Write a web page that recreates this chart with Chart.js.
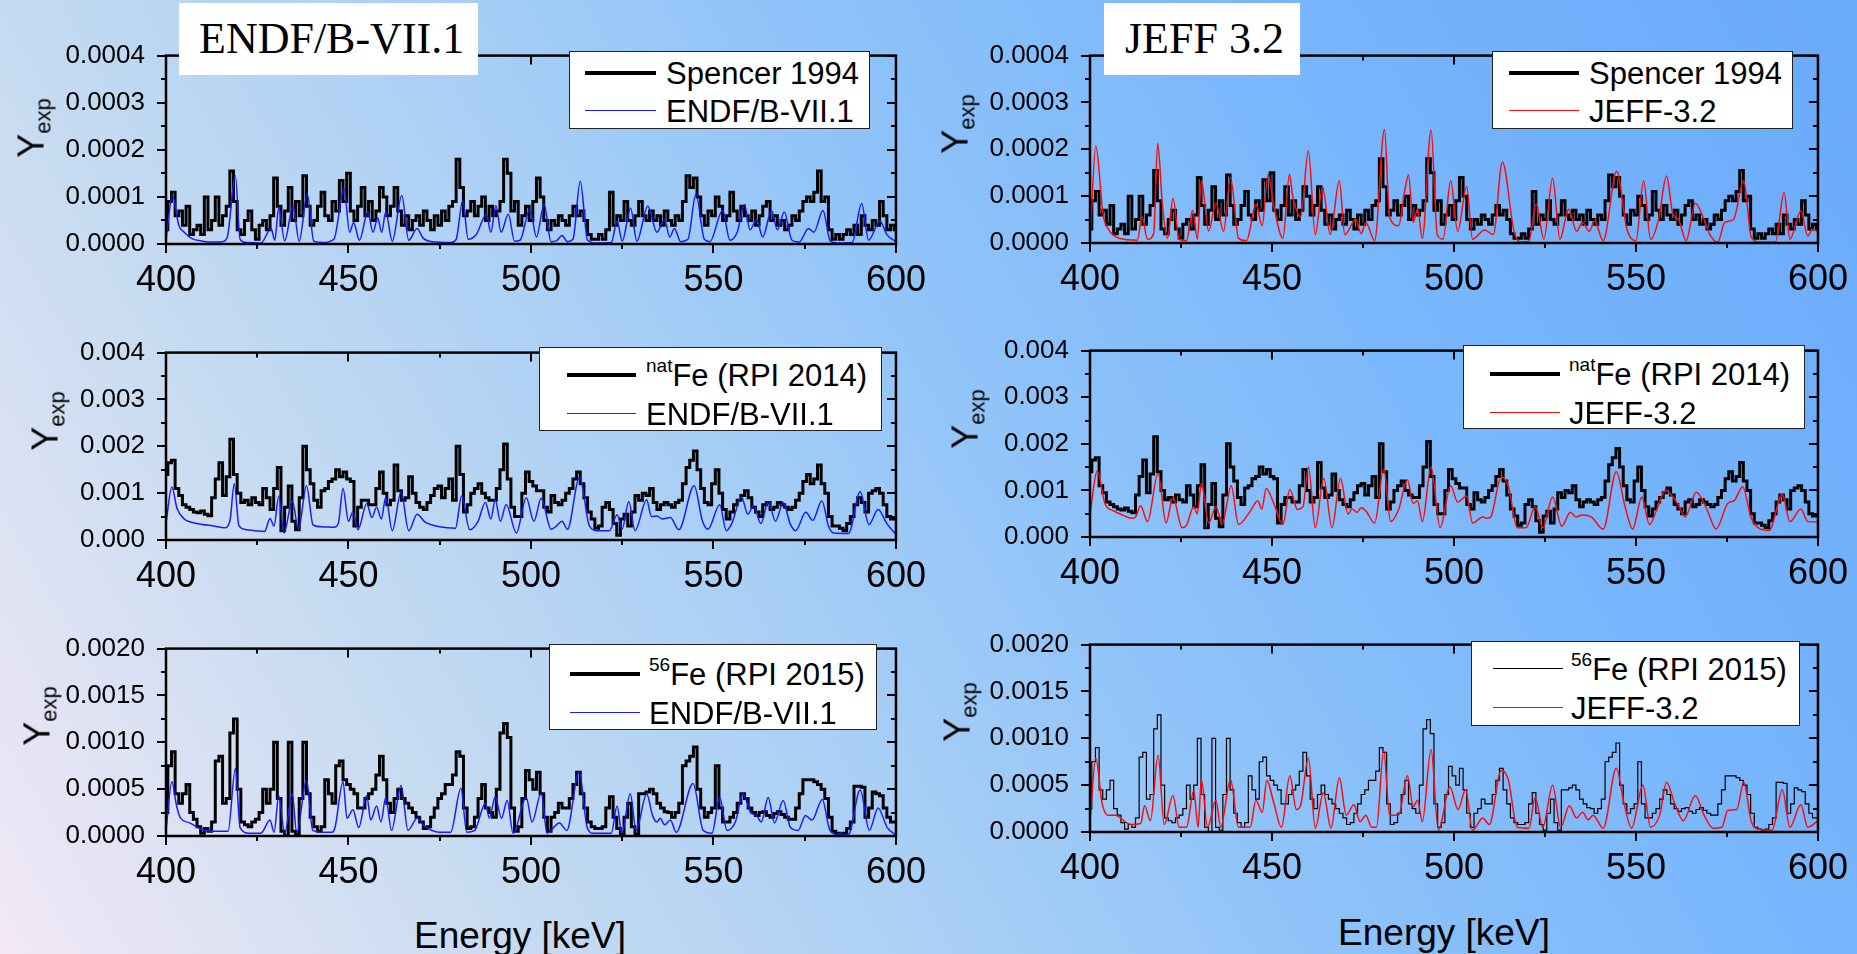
<!DOCTYPE html>
<html>
<head>
<meta charset="utf-8">
<script src="https://cdn.jsdelivr.net/npm/chart.js@4.4.1/dist/chart.umd.min.js"></script>
<style>
  html, body { margin: 0; padding: 0; width: 1857px; height: 954px; overflow: hidden; }
  body {
    position: relative;
    font-family: "Liberation Sans", Arial, sans-serif;
    background: linear-gradient(60deg, #f2e8f6 0%, #c6dbf1 22%, #a9cff5 40%, #8fc3f9 55%, #78b6fc 75%, #69aafa 100%);
  }
  canvas { position: absolute; }
  .legend { position: absolute; background: #fff; border: 1.5px solid #222; box-sizing: border-box; }
  .legend .ln { position: absolute; height: 0; }
  .legend .tx { position: absolute; font-size: 31px; line-height: 1; white-space: nowrap; transform: translateY(-50%); color: #000; }
  .legend sup { font-size: 19px; vertical-align: top; line-height: 1; position: relative; top: -4px; }
  .title { position: absolute; background: #fff; font-family: "Liberation Serif", "Times New Roman", serif; font-size: 44px; line-height: 1; box-sizing: border-box; }
  .title span { position: absolute; white-space: nowrap; }
  .ylab { position: absolute; font-size: 36px; line-height: 1; white-space: nowrap; transform: translate(-50%, -50%) rotate(-90deg); }
  .ylab sub { font-size: 22px; vertical-align: -7px; }
  .xlab { position: absolute; font-size: 37px; line-height: 1; white-space: nowrap; transform: translate(-50%, -50%); }
</style>
</head>
<body>
<script>
// Fe yield 400-600 keV: measured data against ENDF/B-VII.1 and JEFF-3.2

// 1 keV bins for the measured yields
const binE = Array.from({ length: 201 }, (_, i) => 400 + i);

// Spencer 1994, units of 1e-5
const spencer1994 = [
  3, 9, 11, 6, 7, 4, 8, 2, 3, 4,            // 400
  2, 10, 3, 5, 10, 4, 6, 8, 15.5, 9,        // 410
  3, 2, 5, 7, 3, 1, 4, 5, 3, 6,             // 420
  14, 8, 4, 7, 12, 5, 9, 6, 14.5, 8,        // 430
  4, 5, 8, 11, 6, 5, 9, 7, 13.5, 9,         // 440
  15, 7, 5, 8, 12, 6, 9, 5, 7, 12,          // 450
  10, 6, 8, 12, 7, 4, 6, 3, 5, 6,           // 460
  4, 7, 5, 3, 6, 4, 7, 5, 8, 9,             // 470
  18, 12, 6, 7, 9, 6, 8, 10, 5, 8,          // 480
  6, 7, 9, 18, 15, 7, 9, 4, 6, 8,           // 490
  5, 9, 14, 10, 5, 3, 5, 4, 6, 5,           // 500
  4, 6, 8, 6, 7, 5, 2, 1, 1, 2,             // 510
  1, 3, 11, 4, 6, 5, 9, 5, 4, 6,            // 520
  9, 6, 5, 7, 5, 6, 4, 7, 5, 4,             // 530
  6, 5, 9, 14.5, 12, 14, 10, 6, 4, 7,       // 540
  6, 10, 8, 5, 6, 11, 7, 5, 8, 6,           // 550
  5, 7, 4, 6, 8, 9, 5, 6, 4, 5,             // 560
  3, 4, 6, 5, 7, 9, 10, 9, 11, 15.5,        // 570
  9, 10, 3, 1, 2, 1, 2, 3, 2, 4,            // 580
  2, 6, 4, 3, 5, 4, 9, 6, 3, 4,             // 590
  3                                         // 600
];

// natFe RPI 2014, units of 1e-4
const natFe2014 = [
  14, 16.5, 17, 11, 9.5, 7.5, 7, 6.5, 6, 5.8,          // 400
  6.2, 5.5, 5.2, 9, 13, 16.5, 9.5, 13.5, 21.5, 14,     // 410
  10, 8, 8.5, 7.5, 9, 8, 7.5, 11, 9, 6.5,              // 420
  11, 15.5, 2, 7, 11.5, 4, 2.2, 9, 20, 15,             // 430
  12, 8.5, 7, 10.5, 11, 12.5, 13, 15, 13.5, 14.5,      // 440
  13, 12.5, 3, 7, 8.5, 8.5, 7.5, 7.5, 11, 14.5,        // 450
  10, 7.5, 8.5, 16, 10.5, 8.5, 9, 13.5, 10, 8,         // 460
  7, 6.5, 8, 9.5, 11, 11.5, 9, 11, 13, 8.5,            // 470
  20, 14, 6, 7.5, 10, 11, 12, 10, 9, 8.5,              // 480
  8.5, 11, 15, 20.5, 13, 7, 5, 5, 10, 14.5,            // 490
  12.5, 11.5, 10.5, 10.5, 7, 6, 9.5, 8, 7.5, 8.5,      // 500
  10, 11, 13, 14.5, 12, 9, 6, 4.5, 2.5, 3,             // 510
  7, 8, 6.5, 3.5, 1, 4.5, 5.5, 3, 6, 9.5,              // 520
  8.5, 10, 9.5, 11, 8, 6.5, 7.5, 8, 7.5, 7,            // 530
  8, 8.5, 12, 15.5, 17, 19, 15, 11, 8, 7.5,            // 540
  12, 15, 10, 6.5, 4.5, 6, 7.5, 8.5, 9.5, 10.5,        // 550
  9, 7, 6, 5, 7.5, 8, 6.5, 7, 8, 7.5,                  // 560
  7, 6.5, 7, 8.5, 10, 12.5, 14, 12, 13, 16,            // 570
  12, 10, 5, 3, 3, 2.5, 2, 3.5, 5, 7.5,                // 580
  9, 8, 6, 10, 10.5, 11, 10, 7.5, 5, 4.5,              // 590
  4.5                                                  // 600
];

// 56Fe RPI 2015, units of 1e-4
const fe56_2015 = [
  2.5, 7.5, 9, 4.5, 3.5, 4.5, 5.5, 2.5, 1.8, 1,        // 400
  0.3, 0.8, 0.5, 1.5, 8, 8.5, 3.5, 4, 11, 12.5,        // 410
  5, 1.5, 1.2, 1, 1.5, 1.8, 2.5, 5, 3.5, 5,            // 420
  10, 4, 0.5, 0, 10, 0.5, 0.2, 4, 10, 4.5,             // 430
  2, 1, 0.5, 1, 6, 4.5, 3.5, 7.5, 8, 6,                // 440
  5.5, 5, 4.5, 3, 3, 4, 4.5, 5, 6.5, 8.5,              // 450
  6, 3.5, 2.5, 4, 5, 4, 3.5, 3, 2.5, 2,                // 460
  1.5, 0.8, 1, 2, 3, 4, 4.5, 5.5, 5.5, 6.5,            // 470
  9, 8.5, 3, 0.8, 1, 2, 4, 5.5, 3, 2.5,                // 480
  2, 5, 11, 12, 10.5, 3, 0.5, 1, 4, 7,                 // 490
  6, 5, 6.8, 4.5, 2, 0.5, 2, 2.5, 3.5, 3,              // 500
  3, 4, 5.5, 6.8, 4.5, 3, 1.5, 1, 0.8, 0.8,            // 510
  1, 3, 4.2, 2, 0.8, 0.2, 2, 3.5, 1, 0.2,              // 520
  4.5, 4.5, 4.7, 5, 4.5, 3.5, 3, 2.6, 2.5, 2,          // 530
  2.5, 3.5, 7.5, 8, 8.5, 9.5, 5, 3, 2, 2.5,            // 540
  3, 7.5, 3, 1.5, 1.5, 2, 2.5, 3.5, 4.5, 4,            // 550
  3, 2.5, 2.2, 2.5, 2.6, 2.2, 2, 2.4, 2.6, 2.3,        // 560
  2, 1.8, 1.8, 3, 4.5, 6, 6, 6, 5.8, 5.5,              // 570
  5, 4, 2, 0.5, 0.3, 0.2, 0.3, 0.8, 1.5, 5.3,          // 580
  5.3, 5.2, 2, 3, 4.7, 4.5, 4.3, 3, 2, 1.5,            // 590
  1.5                                                  // 600
];

// evaluated curves, [energy keV, yield] pairs
// ENDF/B-VII.1 vs Spencer, units of 1e-5
const endfTop = [
  [400, 1], [401.8, 10.3], [403.5, 4], [405, 2.5], [407, 1.2], [410, 0.6], [413, 0.4], [415.5, 0.5],
  [416.8, 1.5], [419, 14.5], [420.3, 1], [422, 0.3], [426, 0.2], [428.8, 3.3], [429.8, 0.8], [430.9, 7.8],
  [432.5, 0.7], [434.8, 8], [436.5, 0.6], [438.7, 10.6], [440.5, 0.6], [443, 0.3], [446, 1], [448.8, 11.7],
  [450.3, 2.5], [451.4, 4.5], [453, 0.8], [455.3, 6.8], [456.7, 2.5], [458, 5.5], [459.1, 2.5], [460.2, 6.8],
  [462, 0.6], [464.6, 10.3], [466.5, 0.8], [468.8, 3.3], [470.5, 1.2], [474, 0.4], [478, 0.3], [479.5, 1],
  [481.3, 9.2], [482.8, 1], [485, 2], [487.8, 6.3], [489, 2.5], [490.4, 8.2], [491.8, 2.5], [493.8, 6.3],
  [495.5, 0.6], [497, 0.8], [499.7, 7.4], [501.5, 1.5], [503.6, 8.4], [505.5, 0.5], [507, 0.7], [508.5, 1.8],
  [510, 0.5], [511.5, 1], [513.5, 13.3], [515.5, 0.8], [518, 0.2], [522, 0.3], [523.6, 4.9], [525, 0.6],
  [527.3, 7.6], [529, 0.6], [532, 8], [534.5, 2.5], [536.6, 5.2], [538, 1.5], [539.3, 3.3], [541, 0.5],
  [543, 1], [545.2, 10.6], [547.5, 1], [549, 0.5], [552.5, 7.1], [554.5, 0.8], [556.5, 2.5], [558.5, 8.4],
  [560, 3], [561.8, 5.2], [563.5, 1.5], [565.9, 7.1], [567.5, 3], [569.4, 6.8], [571.5, 0.8], [573.5, 0.4],
  [576, 3.3], [577.5, 2.5], [580, 7.1], [582, 0.6], [584, 0.2], [588, 0.3], [590.6, 8.6], [592.5, 0.8],
  [595.6, 4.9], [597.5, 2], [600, 0.5]
];

// JEFF-3.2 vs Spencer, units of 1e-5
const jeffTop = [
  [400, 0.5], [401.6, 20.7], [403.6, 6], [405, 3], [408, 1], [413, 0.6], [414.3, 5.6], [415.8, 0.8],
  [417.5, 2], [418.6, 21.3], [419.9, 8], [421.3, 1], [422.8, 9.5], [424.5, 0.8], [426.5, 0.5], [428.2, 7],
  [429.5, 0.8], [430.6, 13.3], [432.6, 2.5], [434.6, 8.5], [436.7, 2.5], [438.6, 14], [440.8, 1], [443, 0.5],
  [445.6, 8.2], [447.3, 3.7], [448.9, 14.6], [450.5, 7.9], [453, 1], [454.8, 14.6], [455.7, 10], [457.9, 5.6],
  [460, 19.7], [461.9, 1.8], [463.9, 12], [466, 1.8], [468.5, 13.3], [470, 1.8], [473, 5], [474.5, 2],
  [475.8, 4.4], [478.2, 0.5], [480.9, 24.2], [482.3, 5.6], [484.8, 3.7], [486.4, 10.8], [487.5, 14.5], [488.8, 4.4],
  [490, 7.2], [491.3, 1], [493.7, 24.1], [495.4, 1.8], [497, 0.8], [499.1, 13.3], [501, 2.5], [503.5, 12],
  [505.1, 0.8], [508.4, 2.8], [510.8, 1.8], [513.3, 17.3], [516.5, 2.5], [518.2, 0.2], [520.5, 0.3], [522.6, 8.3],
  [524.7, 0.8], [527.1, 13.8], [529.1, 0.8], [531.5, 7.2], [533.7, 2.5], [535.3, 4.4], [537.2, 2.5], [538.6, 4.7],
  [541, 0.5], [544.7, 15.3], [547.5, 3], [550, 0.5], [552.1, 13.3], [554, 0.8], [556.2, 5], [558.4, 14.3],
  [560.1, 6.3], [561.7, 5], [563.8, 0.5], [566.3, 8.5], [568.4, 5.6], [570.3, 1.8], [572.5, 0.2], [574.4, 4.4],
  [576.8, 5], [579.6, 13.3], [581.7, 1.2], [584.2, 0.2], [588.3, 0.2], [590.7, 10.8], [592.3, 0.8], [595.3, 6.9],
  [597.2, 1.5], [598.5, 3], [600, 2.4]
];

// ENDF/B-VII.1 vs natFe, units of 1e-4
const endfMid = [
  [400, 3.6], [401.6, 11.3], [403, 6.8], [405, 4.5], [407, 3.8], [410, 3.3], [413, 3], [416, 2.6],
  [417.5, 4], [418.7, 12], [420, 3], [422, 2.2], [425, 1.9], [427, 1.8], [428.5, 4.6], [429.6, 3],
  [430.9, 9.4], [432.3, 1.5], [434.6, 8.3], [436.3, 2.3], [438.5, 11.6], [440.3, 3.2], [443, 2.8], [446, 2.7],
  [447.2, 3.5], [448.5, 11], [450, 4], [451.2, 6], [452.6, 2.2], [455, 7.8], [456.4, 4.8], [457.7, 7],
  [459, 4.5], [460.2, 9.1], [462, 2], [464.4, 10.2], [466.5, 2], [468.8, 5.5], [471, 3.8], [474, 3],
  [477, 2.6], [479.3, 2.5], [481, 9.4], [483.2, 2.2], [485.5, 4], [487.5, 8], [489, 4.5], [490.2, 8.6],
  [491.6, 4], [493.2, 7.6], [496, 1.5], [498.7, 9], [500.8, 4], [502.8, 8.9], [505.5, 2.3], [507, 3],
  [508.5, 4], [510, 2.3], [513.3, 13.4], [516, 3], [518, 2], [521.5, 2], [523.6, 5.4], [525, 2.4],
  [526.8, 8.2], [528.5, 2], [531.7, 8.6], [533, 5], [534.5, 5.1], [536, 4.5], [538.2, 4.8], [540.5, 2.2],
  [544.7, 11.6], [547, 4], [548.5, 2.3], [551.7, 7.5], [553.5, 2], [555, 3.5], [557.7, 9.2], [559.4, 5.5],
  [561, 7.3], [563, 3.5], [565, 8.2], [567, 4], [569.1, 8], [571, 3.5], [572.5, 2], [575.3, 5.9],
  [577.2, 4.2], [579.7, 8.4], [581.5, 3], [583, 1.5], [587, 1.4], [590.2, 10.3], [592.6, 3.3], [595.1, 6.5],
  [597.5, 3.5], [600, 1.2]
];

// JEFF-3.2 vs natFe, units of 1e-4
const jeffMid = [
  [400, 4.9], [402, 14.2], [404.1, 7.2], [406.5, 5.6], [409, 4.7], [411.4, 4], [412.5, 4.3], [413.9, 6.7],
  [415.8, 3.3], [418.7, 13.6], [420.9, 3], [422.8, 8.5], [425.3, 2], [426.5, 2.5], [428.5, 6.5], [429.5, 5],
  [430.6, 11.5], [432.6, 3], [434.6, 6.5], [436.3, 2.8], [438.8, 11], [440.8, 2.7], [444, 5.5], [446.1, 7.8],
  [447.2, 6], [448.4, 10.4], [450.5, 7.2], [453, 2.7], [454.9, 10.2], [457, 5.9], [458.5, 6.5], [460, 15],
  [461.9, 2], [464.2, 12.6], [466.5, 2], [468.8, 12.6], [470.9, 4.9], [472, 6], [473.4, 5.3], [474.5, 6.3],
  [475.8, 5.6], [478.2, 3], [480.7, 14.6], [482.6, 3.3], [484.8, 5.9], [487.2, 12.3], [488.8, 7.2], [490, 7.8],
  [491.3, 3.3], [493.7, 15], [496.2, 2], [499.1, 11], [501, 7.5], [503.5, 8.8], [505.1, 3], [507.9, 4.3],
  [509, 4], [510, 4.2], [513, 12.9], [514.9, 11], [517.4, 2], [519.8, 2], [522.3, 6.5], [524.4, 2],
  [527.1, 8.6], [529.6, 2.3], [532, 5.3], [533.5, 4.3], [535.3, 4.7], [537.7, 4.3], [541, 1.7], [544.6, 14],
  [547, 6.5], [549.1, 1.7], [551.6, 8.6], [553.7, 2.7], [556, 6.5], [558.1, 10], [561.4, 7.2], [563.5, 4.3],
  [566.6, 9.6], [569.5, 5.9], [572, 1.7], [575.2, 7.2], [577, 7.8], [579.3, 10.8], [581.7, 4], [584.2, 1.7],
  [586.6, 1.4], [590.2, 9.2], [592.3, 3.3], [595.3, 6], [597.2, 3.3], [600, 3.2]
];

// ENDF/B-VII.1 vs 56Fe, units of 1e-4
const endfBot = [
  [400, 0.6], [401.6, 5.8], [402.9, 3.2], [404, 1.9], [406.5, 1.4], [409.8, 0.7], [413, 0.5], [417, 0.5],
  [419, 7.2], [420.3, 0.9], [422.8, 0.3], [426, 0.3], [428.5, 1.7], [429.6, 0.4], [430.9, 4.3], [432.5, 0.3],
  [434.6, 4.5], [435.8, 0.3], [438.5, 6], [440.2, 0.6], [443, 0.4], [445.5, 0.4], [446.3, 0.9], [448.5, 5.8],
  [449.6, 1.9], [451.2, 2.8], [452.8, 0.9], [455, 4.3], [456.1, 1.7], [457.7, 3.2], [458.9, 1.5], [460.2, 4.1],
  [461.8, 0.6], [464.4, 5.4], [466.3, 0.6], [468.8, 1.9], [470.7, 1.1], [474.8, 0.4], [478, 0.4], [480.8, 5.1],
  [482.4, 0.4], [484.6, 0.6], [487.5, 3.5], [488.6, 1.9], [490.2, 4.2], [491.9, 1.9], [493.5, 3.8], [495.1, 0.3],
  [498.7, 4.1], [500.3, 1.5], [502.8, 4.6], [504.4, 0.3], [507.8, 1.4], [509.8, 0.6], [513.2, 6.9], [515.4, 0.9],
  [517, 0.3], [522, 0.3], [523.6, 3.2], [524.9, 0.3], [527.2, 4.5], [528.8, 0.6], [531.7, 4.5], [533.3, 2.2],
  [534.5, 1.5], [535.4, 1.9], [536.6, 1.2], [538.2, 1.7], [539.8, 0.4], [544.4, 5.6], [547.2, 0.6], [549.6, 0.3],
  [551.7, 4.1], [553.7, 0.6], [556, 1.5], [558.1, 4.5], [560.2, 2.5], [561.8, 2.2], [563.1, 1.5], [565, 4.1],
  [566.7, 1.4], [569.1, 3.8], [571.1, 0.9], [573.2, 0.6], [575.2, 2.2], [577, 1.7], [579.8, 3.9], [581.9, 0.6],
  [583.7, 0.2], [587, 0.2], [590.2, 4.9], [592.7, 0.6], [595.1, 3], [597.6, 0.9], [600, 0.1]
];

// JEFF-3.2 vs 56Fe, units of 1e-4
const jeffBot = [
  [400, 1.2], [401.6, 7.9], [403.3, 3.1], [404.9, 1.8], [407, 1.8], [410, 1], [411.4, 0.8], [413.9, 0.9],
  [415, 2.8], [416.6, 1.2], [418.7, 8.2], [420.4, 0.8], [422.8, 3.9], [424.5, 0.5], [426.5, 0.5], [428.5, 4.4],
  [429.7, 0.5], [430.6, 5.6], [432.3, 0.5], [434.6, 3.4], [435.9, 0.5], [438.6, 5.6], [440.8, 0.5], [444, 0.5],
  [445.6, 3.4], [447.3, 2.1], [448.6, 5.5], [450.5, 3.1], [452.6, 0.5], [454.9, 6], [456.7, 2.4], [457.9, 2.9],
  [460, 7.9], [461.9, 0.4], [464.1, 4.2], [466.2, 0.4], [468.5, 5.8], [470.4, 1.8], [472.5, 2.9], [474.2, 1.1],
  [475.8, 1.8], [477.4, 0.5], [478.7, 0.5], [480.7, 8.7], [482.3, 1.8], [484.8, 1.8], [487.2, 6], [488.8, 2.7],
  [490, 3.4], [491.3, 1.1], [493.7, 8.8], [495.7, 0.2], [498.9, 4.8], [501.1, 2.4], [503.2, 4.5], [505.1, 0.2],
  [507.9, 1.5], [509.7, 0.8], [513, 6.6], [514.9, 5.6], [517.4, 0.5], [520.6, 0.4], [522.3, 3.7], [524.4, 0.5],
  [527.1, 5], [529.3, 0.5], [531.7, 2.8], [533.7, 1.5], [535.3, 2.1], [536.9, 1.3], [538.2, 1.8], [541, 0.4],
  [544.6, 6.8], [546.7, 3.1], [548.8, 0.4], [551.9, 5], [554, 0.5], [556.5, 1.8], [558.4, 5.3], [560.6, 3.1],
  [563, 1.2], [566.3, 3.9], [568.7, 1.8], [571.2, 0.4], [573.6, 0.5], [575.2, 2.3], [577.7, 2.4], [579.6, 5.3],
  [581.7, 1.1], [583.9, 0.3], [587.4, 0.2], [590.2, 4.5], [592.3, 0.5], [595.3, 2.9], [597.2, 0.5], [600, 1.2]
];

// axis ticks
const xTicks = [400, 450, 500, 550, 600];
const yTicksTop = [0, 0.0001, 0.0002, 0.0003, 0.0004];
const yTicksMid = [0, 0.001, 0.002, 0.003, 0.004];
const yTicksBot = [0, 0.0005, 0.001, 0.0015, 0.002];

const BLUE = '#1a1aff';
const RED = '#ff0a0a';

const panels = [
  { plot: [166, 35, 730, 209], exp: spencer1994, expUnit: 1e-5, expW: 3, model: endfTop, modelUnit: 1e-5,
    color: BLUE, yTicks: yTicksTop, dec: 4, ylab: [34, 128],
    legend: { box: [569, 51, 301, 78], line: [15, 86], text: 96, rows: [21, 59],
      labels: ['Spencer 1994', 'ENDF/B-VII.1'] },
    title: { box: [179, 3, 299, 72], text: 'ENDF/B-VII.1', tx: 20, ty: 14 } },
  { plot: [1090, 35, 728, 208], exp: spencer1994, expUnit: 1e-5, expW: 3, model: jeffTop, modelUnit: 1e-5,
    color: RED, yTicks: yTicksTop, dec: 4, ylab: [958, 124],
    legend: { box: [1492, 51, 301, 78], line: [16, 86], text: 96, rows: [21, 59],
      labels: ['Spencer 1994', 'JEFF-3.2'] },
    title: { box: [1104, 3, 196, 72], text: 'JEFF 3.2', tx: 21, ty: 14 } },
  { plot: [166, 332, 730, 208], exp: natFe2014, expUnit: 1e-4, expW: 3, model: endfMid, modelUnit: 1e-4,
    color: BLUE, yTicks: yTicksMid, dec: 3, ylab: [48, 421],
    legend: { box: [539, 347, 343, 84], line: [27, 96], text: 106, rows: [27, 66],
      labels: ['<sup>nat</sup>Fe (RPI 2014)', 'ENDF/B-VII.1'] } },
  { plot: [1090, 330, 728, 207], exp: natFe2014, expUnit: 1e-4, expW: 3, model: jeffMid, modelUnit: 1e-4,
    color: RED, yTicks: yTicksMid, dec: 3, ylab: [968, 419],
    legend: { box: [1463, 345, 342, 84], line: [26, 96], text: 105, rows: [28, 67],
      labels: ['<sup>nat</sup>Fe (RPI 2014)', 'JEFF-3.2'] } },
  { plot: [166, 628, 730, 208], exp: fe56_2015, expUnit: 1e-4, expW: 3, model: endfBot, modelUnit: 1e-4,
    color: BLUE, yTicks: yTicksBot, dec: 4, ylab: [40, 716],
    legend: { box: [549, 644, 328, 86], line: [20, 90], text: 99, rows: [29, 68],
      labels: ['<sup>56</sup>Fe (RPI 2015)', 'ENDF/B-VII.1'] } },
  { plot: [1090, 624, 728, 208], exp: fe56_2015, expUnit: 1e-4, expW: 1.2, model: jeffBot, modelUnit: 1e-4,
    color: RED, yTicks: yTicksBot, dec: 4, ylab: [960, 712],
    legend: { box: [1471, 641, 329, 85], line: [21, 91], text: 99, rows: [27, 66],
      labels: ['<sup>56</sup>Fe (RPI 2015)', 'JEFF-3.2'] } }
];

const xTitles = [[520, 935], [1444, 932]];

// frame round the plot, ticks out on left/bottom, in on top/right, minor ticks halfway
const frameTicks = {
  id: 'frameTicks',
  afterDatasetsDraw(chart, args, opts) {
    const { ctx, chartArea: a, scales: { x, y } } = chart;
    const MAJ = 9, MIN = 5;
    const withMinor = (arr) => {
      const out = [];
      arr.forEach((v, i) => {
        out.push([v, MAJ]);
        if (i < arr.length - 1) out.push([(v + arr[i + 1]) / 2, MIN]);
      });
      return out;
    };
    ctx.save();
    ctx.strokeStyle = '#000';
    ctx.lineWidth = 2;
    ctx.beginPath();
    withMinor(xTicks).forEach(([v, len]) => {
      const px = Math.round(x.getPixelForValue(v));
      ctx.moveTo(px, a.bottom); ctx.lineTo(px, a.bottom + len);
      ctx.moveTo(px, a.top); ctx.lineTo(px, a.top + len);
    });
    withMinor(opts.yTicks).forEach(([v, len]) => {
      const py = Math.round(y.getPixelForValue(v));
      ctx.moveTo(a.left, py); ctx.lineTo(a.left - len, py);
      ctx.moveTo(a.right, py); ctx.lineTo(a.right - len, py);
    });
    ctx.stroke();
    ctx.lineWidth = 2.5;
    ctx.strokeRect(a.left, a.top, a.right - a.left, a.bottom - a.top);
    ctx.restore();
  }
};

const PAD_L = 130, PAD_T = 16, PAD_R = 45, PAD_B = 62;

function buildPanel(p) {
  const [left, top, w, h] = p.plot;
  const cv = document.createElement('canvas');
  cv.width = w + PAD_L + PAD_R;
  cv.height = h + PAD_T + PAD_B;
  cv.style.left = (left - PAD_L) + 'px';
  cv.style.top = (top - PAD_T) + 'px';
  document.body.appendChild(cv);

  const expPts = binE.map((e, i) => ({ x: e, y: p.exp[i] * p.expUnit }));
  const modelPts = p.model.map(([e, v]) => ({ x: e, y: v * p.modelUnit }));

  new Chart(cv, {
    type: 'line',
    data: {
      datasets: [
        { data: modelPts, borderColor: p.color, borderWidth: 1.5, pointRadius: 0,
          cubicInterpolationMode: 'monotone', order: 0 },
        { data: expPts, borderColor: '#000', borderWidth: p.expW, pointRadius: 0,
          stepped: 'middle', order: 1 }
      ]
    },
    options: {
      responsive: false,
      animation: false,
      events: [],
      layout: { padding: { left: 0, top: PAD_T, right: PAD_R, bottom: 0 } },
      plugins: { legend: { display: false }, tooltip: { enabled: false }, frameTicks: { yTicks: p.yTicks } },
      scales: {
        x: {
          type: 'linear', min: 400, max: 600,
          grid: { display: false, drawTicks: false }, border: { display: false },
          afterBuildTicks: (s) => { s.ticks = xTicks.map(v => ({ value: v })); },
          afterFit: (s) => { s.height = PAD_B; },
          ticks: { color: '#000', padding: 15, maxRotation: 0, font: { family: 'Liberation Sans', size: 36 } }
        },
        y: {
          min: p.yTicks[0], max: p.yTicks[p.yTicks.length - 1],
          grid: { display: false, drawTicks: false }, border: { display: false },
          afterBuildTicks: (s) => { s.ticks = p.yTicks.map(v => ({ value: v })); },
          afterFit: (s) => { s.width = PAD_L; },
          ticks: { color: '#000', padding: 21, font: { family: 'Liberation Sans', size: 26 },
            callback: (v) => Number(v).toFixed(p.dec) }
        }
      }
    },
    plugins: [frameTicks]
  });

  // legend box
  const lg = p.legend;
  const box = document.createElement('div');
  box.className = 'legend';
  Object.assign(box.style, { left: lg.box[0] + 'px', top: lg.box[1] + 'px', width: lg.box[2] + 'px', height: lg.box[3] + 'px' });
  const styles = [['#000', p.expW === 3 ? 4 : 1.5], [p.color, 1.5]];
  lg.labels.forEach((lab, i) => {
    const ln = document.createElement('div');
    ln.className = 'ln';
    Object.assign(ln.style, { left: lg.line[0] + 'px', width: (lg.line[1] - lg.line[0]) + 'px',
      top: (lg.rows[i] - styles[i][1] / 2) + 'px', borderTop: styles[i][1] + 'px solid ' + styles[i][0] });
    const tx = document.createElement('div');
    tx.className = 'tx';
    tx.innerHTML = lab;
    Object.assign(tx.style, { left: lg.text + 'px', top: lg.rows[i] + 'px' });
    box.appendChild(ln);
    box.appendChild(tx);
  });
  document.body.appendChild(box);

  // y axis title
  const yl = document.createElement('div');
  yl.className = 'ylab';
  yl.innerHTML = 'Y<sub>exp</sub>';
  Object.assign(yl.style, { left: p.ylab[0] + 'px', top: p.ylab[1] + 'px' });
  document.body.appendChild(yl);

  // library title box
  if (p.title) {
    const t = document.createElement('div');
    t.className = 'title';
    Object.assign(t.style, { left: p.title.box[0] + 'px', top: p.title.box[1] + 'px',
      width: p.title.box[2] + 'px', height: p.title.box[3] + 'px' });
    const s = document.createElement('span');
    s.textContent = p.title.text;
    Object.assign(s.style, { left: p.title.tx + 'px', top: p.title.ty + 'px' });
    t.appendChild(s);
    document.body.appendChild(t);
  }
}

panels.forEach(buildPanel);

xTitles.forEach(([cx, cy]) => {
  const d = document.createElement('div');
  d.className = 'xlab';
  d.textContent = 'Energy [keV]';
  Object.assign(d.style, { left: cx + 'px', top: cy + 'px' });
  document.body.appendChild(d);
});
</script>
</body>
</html>
